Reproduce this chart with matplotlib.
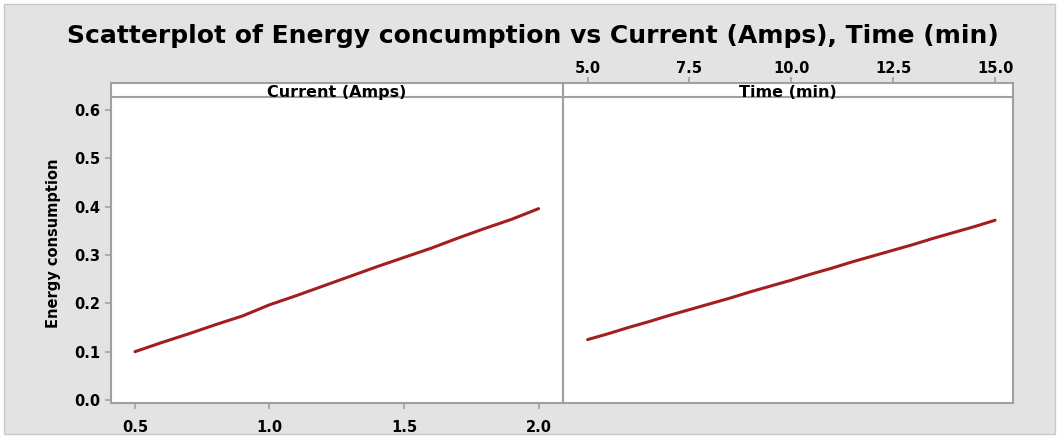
import numpy as np
import matplotlib
matplotlib.use('Agg')
import matplotlib.pyplot as plt
from matplotlib.patches import Rectangle

# data
current = [0.5, 0.6, 0.7, 0.8, 0.9, 1.0, 1.1, 1.2, 1.3, 1.4, 1.5, 1.6, 1.7, 1.8, 1.9, 2.0]
energy_current = [0.100, 0.119, 0.137, 0.156, 0.174, 0.197, 0.216, 0.236, 0.256, 0.276, 0.295, 0.314, 0.335, 0.355, 0.374, 0.396]
time_min = [5.0, 5.5, 6.0, 6.5, 7.0, 7.5, 8.0, 8.5, 9.0, 9.5, 10.0, 10.5, 11.0, 11.5, 12.0, 12.5, 13.0, 13.5, 14.0, 14.5, 15.0]
energy_time = [0.125, 0.137, 0.150, 0.162, 0.175, 0.187, 0.199, 0.211, 0.224, 0.236, 0.248, 0.261, 0.273, 0.286, 0.298, 0.310, 0.322, 0.335, 0.347, 0.359, 0.372]

left_ticks = [0.5, 1.0, 1.5, 2.0]
left_labels = ['0.5', '1.0', '1.5', '2.0']
right_ticks = [5.0, 7.5, 10.0, 12.5, 15.0]
right_labels = ['5.0', '7.5', '10.0', '12.5', '15.0']
y_ticks = [0.0, 0.1, 0.2, 0.3, 0.4, 0.5, 0.6]

line_col = '#a31f1f'
frame_col = '#a0a0a0'
bg_col = '#e3e3e3'

fig = plt.figure(figsize=(10.59, 4.38), dpi=100)
fig.patch.set_facecolor('white')
fig.patches.append(Rectangle((0.004, 0.008), 0.992, 0.984, transform=fig.transFigure,
                             facecolor=bg_col, edgecolor='#c8c8c8', lw=1, zorder=-10))

ax1 = fig.add_axes([0.1048, 0.0799, 0.4264, 0.7306])
ax2 = fig.add_axes([0.5312, 0.0799, 0.4254, 0.7306], sharey=ax1)

strip_y = 0.627
ylim = (-0.0062, 0.656)

for ax in (ax1, ax2):
    ax.set_facecolor('white')
    ax.set_ylim(*ylim)
    for s in ax.spines.values():
        s.set_color(frame_col)
        s.set_linewidth(1.5)
    ax.axhline(strip_y, color=frame_col, lw=1.5, zorder=1)
    ax.tick_params(colors=frame_col, length=4, width=1.2, labelcolor='black')

ax1.plot(current, energy_current, color=line_col, lw=2.2, solid_capstyle='round')
ax1.set_xlim(0.411, 2.089)
ax1.set_xticks(left_ticks)
ax1.set_xticklabels(left_labels, fontsize=10.5, fontweight='bold')
ax1.set_yticks(y_ticks)
ax1.set_yticklabels([f'{v:.1f}' for v in y_ticks], fontsize=10.5, fontweight='bold')
ax1.tick_params(axis='x', pad=8)
ax1.set_ylabel('Energy consumption', fontsize=10.5, fontweight='bold', labelpad=10)
ax1.text(0.5, 0.637, 'Current (Amps)', transform=ax1.get_yaxis_transform(),
         ha='center', va='center', fontsize=11.5, fontweight='bold')

ax2.plot(time_min, energy_time, color=line_col, lw=2.2, solid_capstyle='round')
ax2.set_xlim(4.386, 15.44)
ax2.xaxis.tick_top()
ax2.set_xticks(right_ticks)
ax2.set_xticklabels(right_labels, fontsize=10.5, fontweight='bold')
ax2.tick_params(axis='x', pad=1)
ax2.tick_params(axis='y', left=False, labelleft=False)
ax2.text(0.5, 0.637, 'Time (min)', transform=ax2.get_yaxis_transform(),
         ha='center', va='center', fontsize=11.5, fontweight='bold')

fig.suptitle('Scatterplot of Energy concumption vs Current (Amps), Time (min)',
             x=0.503, y=0.945, fontsize=18, fontweight='bold')

fig.savefig('out.png', dpi=100, facecolor=fig.get_facecolor())
